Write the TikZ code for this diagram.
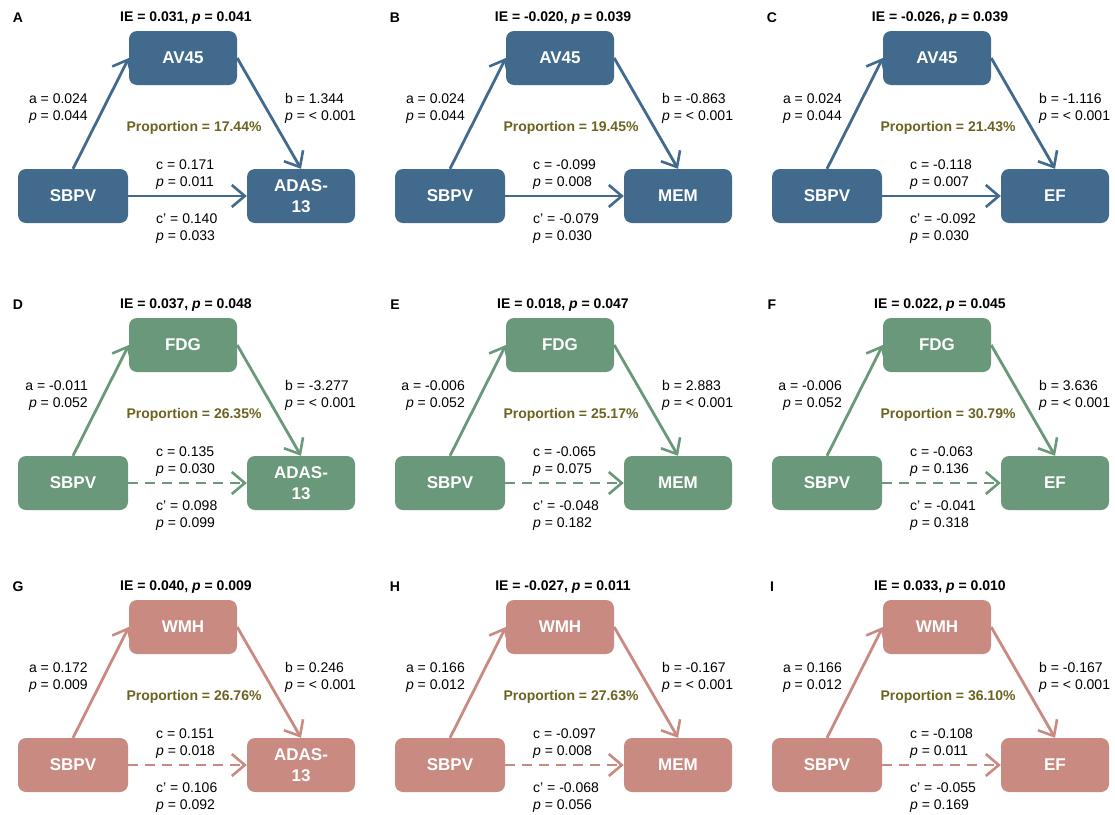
\documentclass[tikz,border=0pt]{standalone}
\usepackage{fontspec}
\setmainfont{Liberation Sans}
\usetikzlibrary{arrows.meta}
\definecolor{avblue}{HTML}{416A8D}
\definecolor{fdggreen}{HTML}{6A987A}
\definecolor{wmhpink}{HTML}{C98A82}
\definecolor{propolive}{HTML}{6B6320}
\newcommand\adas{ADAS-\\13}
\tikzset{
  varbox/.style={fill=#1, rounded corners=8pt, text=white, font=\fontsize{17}{20.5}\selectfont\bfseries,
    minimum width=108pt, minimum height=54pt, inner sep=0pt, align=center},
  eff/.style={draw=#1, line width=2.8pt, -{Straight Barb[length=13pt,width=22pt,line width=2.6pt]}},
  solidc/.style={},
  dashc/.style={dash pattern=on 10pt off 7pt},
  coef/.style={font=\fontsize{14}{17}\selectfont, inner sep=0pt},
  headtxt/.style={font=\fontsize{14}{17}\selectfont\bfseries, inner sep=0pt},
}
\begin{document}
\begin{tikzpicture}[x=1pt,y=-1pt]
\useasboundingbox (0,0) rectangle (1115,814);
\foreach \px/\py/\pl/\ie/\iep/\col/\med/\out/\va/\pa/\vb/\prop/\vc/\pc/\vcc/\pcc/\sty in {
  0/0/A/0.031/0.041/avblue/AV45/\adas/0.024/0.044/1.344/17.44/0.171/0.011/0.140/0.033/solidc,
  377/0/B/-0.020/0.039/avblue/AV45/MEM/0.024/0.044/-0.863/19.45/-0.099/0.008/-0.079/0.030/solidc,
  754/0/C/-0.026/0.039/avblue/AV45/EF/0.024/0.044/-1.116/21.43/-0.118/0.007/-0.092/0.030/solidc,
  0/287/D/0.037/0.048/fdggreen/FDG/\adas/-0.011/0.052/-3.277/26.35/0.135/0.030/0.098/0.099/dashc,
  377/287/E/0.018/0.047/fdggreen/FDG/MEM/-0.006/0.052/2.883/25.17/-0.065/0.075/-0.048/0.182/dashc,
  754/287/F/0.022/0.045/fdggreen/FDG/EF/-0.006/0.052/3.636/30.79/-0.063/0.136/-0.041/0.318/dashc,
  0/569/G/0.040/0.009/wmhpink/WMH/\adas/0.172/0.009/0.246/26.76/0.151/0.018/0.106/0.092/dashc,
  377/569/H/-0.027/0.011/wmhpink/WMH/MEM/0.166/0.012/-0.167/27.63/-0.097/0.008/-0.068/0.056/dashc,
  754/569/I/0.033/0.010/wmhpink/WMH/EF/0.166/0.012/-0.167/36.10/-0.108/0.011/-0.055/0.169/dashc}
{
\begin{scope}[shift={(\px,\py)}]
\node[font=\fontsize{14}{16}\selectfont\bfseries] (lt\pl) at (18,18) {\pl};
\node[headtxt] (ie\pl) at (186,18) {IE = \ie, \textit{p} = \iep};
\node[varbox=\col] (med\pl) at (183,58) {\med};
\node[varbox=\col, minimum width=110pt] (x\pl) at (73,196) {SBPV};
\node[varbox=\col] (y\pl) at (301,196) {\out};
\draw[eff=\col] (x\pl.north) -- (med\pl.west);
\draw[eff=\col] (med\pl.east) -- (y\pl.north);
\draw[eff=\col, \sty] (x\pl.east) -- (y\pl.west);
\node[coef, anchor=east, align=right] (a\pl) at (88,108.5) {a = \va\\\textit{p} = \pa};
\node[coef, anchor=west, align=left] (b\pl) at (285,108.5) {b = \vb\\\textit{p} = < 0.001};
\node[headtxt, text=propolive] (pr\pl) at (194,128) {Proportion = \prop\%};
\node[coef, anchor=west, align=left] (c\pl) at (156,175) {c = \vc\\\textit{p} = \pc};
\node[coef, anchor=west, align=left] (cc\pl) at (156,228.5) {c' = \vcc\\\textit{p} = \pcc};
\end{scope}
}
\end{tikzpicture}
\end{document}
